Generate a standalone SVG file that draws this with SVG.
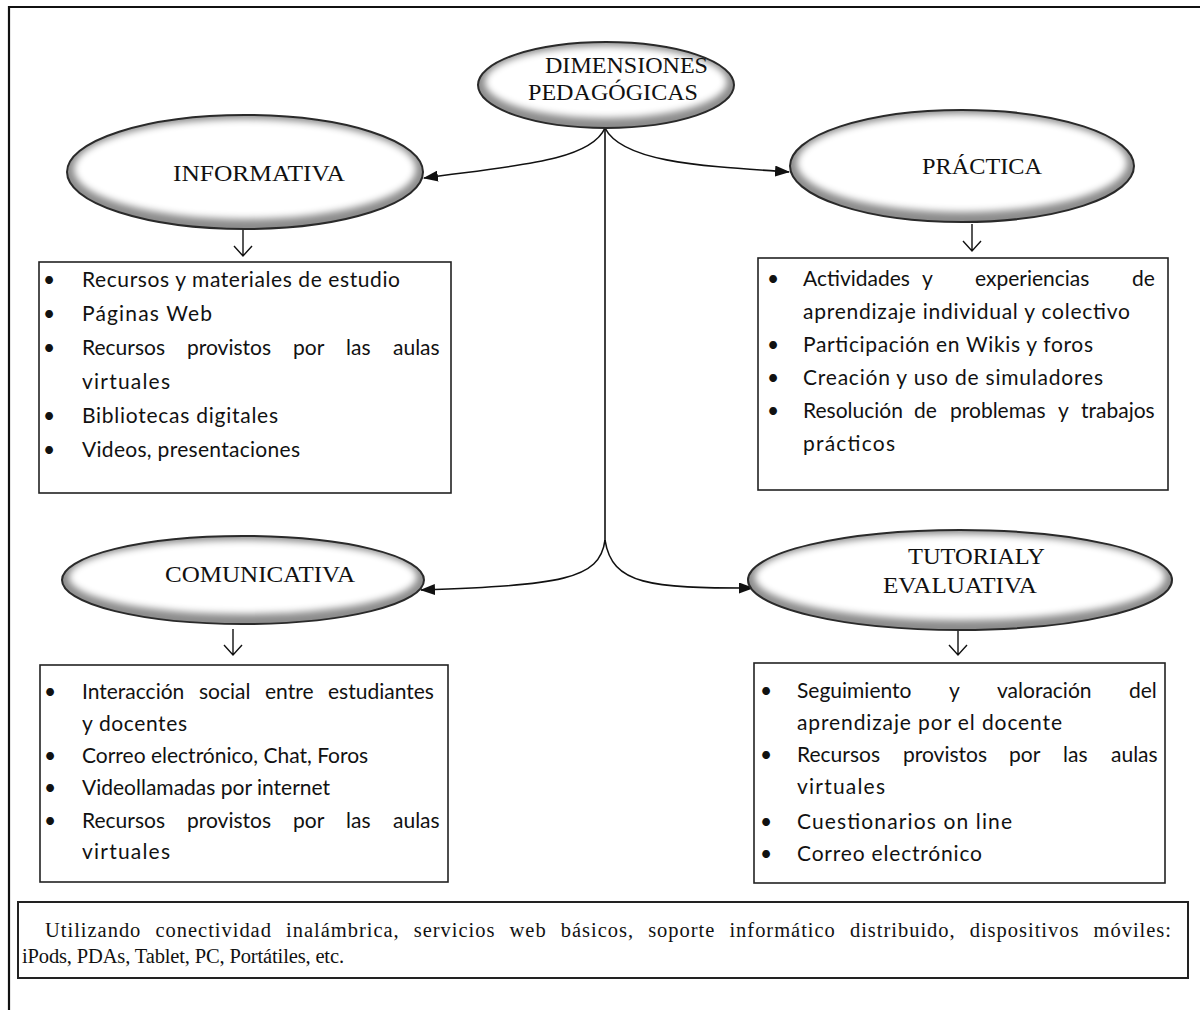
<svg xmlns="http://www.w3.org/2000/svg" width="1200" height="1010" viewBox="0 0 1200 1010">
  <defs>
    <style>
      .lbl { font-family: "Liberation Serif", "Times New Roman", serif; font-size: 23px; fill: #111; }
      .item { font-family: Lato, "Open Sans", sans-serif; font-size: 21px; fill: #111; }
      .foot { font-family: "Liberation Serif", "Times New Roman", serif; font-size: 20.5px; fill: #111; }
      .box { fill: #fff; stroke: #222; stroke-width: 1.6; }
      .rim { fill: #8c8c8c; }
      .face { fill: #fff; filter: url(#soft); }
      .edge { fill: none; stroke: #2a2a2a; stroke-width: 2; }
      .conn { fill: none; stroke: #111; stroke-width: 1.6; }
      .down { fill: none; stroke: #111; stroke-width: 1.4; }
    </style>
    <!-- softens the white face so the grey rim fades inward -->
    <filter id="soft" x="-10%" y="-20%" width="120%" height="140%">
      <feGaussianBlur stdDeviation="3.5"/>
    </filter>
    <marker id="tipBig" viewBox="0 0 15 11" refX="14" refY="5.5" markerWidth="15" markerHeight="11" markerUnits="userSpaceOnUse" orient="auto">
      <path d="M0,0 L15,5.5 L0,11 z" fill="#111"/>
    </marker>
  </defs>

  <rect width="1200" height="1010" fill="#fff"/>

  <!-- outer frame, open to the right and bottom -->
  <path d="M1200,7 H9 V1010" fill="none" stroke="#111" stroke-width="2.2"/>

  <!-- connectors -->
  <g id="connectors">
    <path class="conn" d="M605,128 V542"/>
    <path class="conn" d="M605,128 C590,162 510,166 424,178" marker-end="url(#tipBig)"/>
    <path class="conn" d="M605,128 C622,162 700,166 789,172" marker-end="url(#tipBig)"/>
    <path class="conn" d="M605,540 C600,580 560,585 421,590" marker-end="url(#tipBig)"/>
    <path class="conn" d="M605,540 C612,585 650,588 753,588" marker-end="url(#tipBig)"/>
    <!-- short down arrows from each dimension to its list -->
    <path class="down" d="M243,230 V256 M234,246 L243,256 L252,246"/>
    <path class="down" d="M972,224 V251 M963,241 L972,251 L981,241"/>
    <path class="down" d="M233,629 V655 M224,645 L233,655 L242,645"/>
    <path class="down" d="M958,631 V655 M949,645 L958,655 L967,645"/>
  </g>

  <!-- root node -->
  <g id="node-dimensiones">
    <ellipse class="rim" cx="606" cy="85" rx="128" ry="43"/>
    <ellipse class="face" cx="606" cy="82" rx="121" ry="36"/>
    <ellipse class="edge" cx="606" cy="85" rx="128" ry="43"/>
    <text class="lbl" x="545" y="73" textLength="163" lengthAdjust="spacingAndGlyphs">DIMENSIONES</text>
    <text class="lbl" x="528" y="100" textLength="170" lengthAdjust="spacingAndGlyphs">PEDAGÓGICAS</text>
  </g>

  <g id="node-informativa">
    <ellipse class="rim" cx="245" cy="172" rx="178" ry="57"/>
    <ellipse class="face" cx="245" cy="169" rx="171" ry="50"/>
    <ellipse class="edge" cx="245" cy="172" rx="178" ry="57"/>
    <text class="lbl" x="173" y="181" textLength="172" lengthAdjust="spacingAndGlyphs">INFORMATIVA</text>
  </g>

  <g id="node-practica">
    <ellipse class="rim" cx="962" cy="166" rx="172" ry="56"/>
    <ellipse class="face" cx="962" cy="163" rx="165" ry="49"/>
    <ellipse class="edge" cx="962" cy="166" rx="172" ry="56"/>
    <text class="lbl" x="922" y="174" textLength="120" lengthAdjust="spacingAndGlyphs">PRÁCTICA</text>
  </g>

  <g id="node-comunicativa">
    <ellipse class="rim" cx="243" cy="580" rx="181" ry="44"/>
    <ellipse class="face" cx="243" cy="577" rx="174" ry="37"/>
    <ellipse class="edge" cx="243" cy="580" rx="181" ry="44"/>
    <text class="lbl" x="165" y="582" textLength="190" lengthAdjust="spacingAndGlyphs">COMUNICATIVA</text>
  </g>

  <g id="node-tutorial">
    <ellipse class="rim" cx="960" cy="580" rx="212" ry="50"/>
    <ellipse class="face" cx="960" cy="577" rx="205" ry="43"/>
    <ellipse class="edge" cx="960" cy="580" rx="212" ry="50"/>
    <text class="lbl" x="908" y="564" textLength="137" lengthAdjust="spacingAndGlyphs">TUTORIALY</text>
    <text class="lbl" x="883" y="593" textLength="154" lengthAdjust="spacingAndGlyphs">EVALUATIVA</text>
  </g>

  <!-- lists -->
  <g id="list-informativa">
    <rect class="box" x="39" y="262" width="412" height="231"/>
    <g class="item">
      <text x="43" y="287">•</text>
      <text x="82" y="287" textLength="318" lengthAdjust="spacing">Recursos y materiales de estudio</text>
      <text x="43" y="321">•</text>
      <text x="82" y="321" textLength="130" lengthAdjust="spacing">Páginas Web</text>
      <text x="43" y="355">•</text>
      <text x="82" y="355">Recursos</text>
      <text x="187" y="355">provistos</text>
      <text x="293" y="355">por</text>
      <text x="346" y="355">las</text>
      <text x="393" y="355">aulas</text>
      <text x="82" y="389" textLength="88" lengthAdjust="spacing">virtuales</text>
      <text x="43" y="423">•</text>
      <text x="82" y="423" textLength="196" lengthAdjust="spacing">Bibliotecas digitales</text>
      <text x="43" y="457">•</text>
      <text x="82" y="457" textLength="218" lengthAdjust="spacing">Videos, presentaciones</text>
    </g>
  </g>

  <g id="list-practica">
    <rect class="box" x="758" y="258" width="410" height="232"/>
    <g class="item">
      <text x="767" y="286">•</text>
      <text x="803" y="286">Actividades</text>
      <text x="922" y="286">y</text>
      <text x="975" y="286">experiencias</text>
      <text x="1132" y="286">de</text>
      <text x="803" y="319" textLength="327" lengthAdjust="spacing">aprendizaje individual y colectivo</text>
      <text x="767" y="352">•</text>
      <text x="803" y="352" textLength="290" lengthAdjust="spacing">Participación en Wikis y foros</text>
      <text x="767" y="385">•</text>
      <text x="803" y="385" textLength="300" lengthAdjust="spacing">Creación y uso de simuladores</text>
      <text x="767" y="418">•</text>
      <text x="803" y="418">Resolución</text>
      <text x="914" y="418">de</text>
      <text x="950" y="418">problemas</text>
      <text x="1058" y="418">y</text>
      <text x="1081" y="418">trabajos</text>
      <text x="803" y="451" textLength="92" lengthAdjust="spacing">prácticos</text>
    </g>
  </g>

  <g id="list-comunicativa">
    <rect class="box" x="40" y="665" width="408" height="217"/>
    <g class="item">
      <text x="44" y="699">•</text>
      <text x="82" y="699">Interacción</text>
      <text x="199" y="699">social</text>
      <text x="265" y="699">entre</text>
      <text x="328" y="699">estudiantes</text>
      <text x="82" y="731" textLength="105" lengthAdjust="spacing">y docentes</text>
      <text x="44" y="763">•</text>
      <text x="82" y="763">Correo electrónico, Chat, Foros</text>
      <text x="44" y="795">•</text>
      <text x="82" y="795">Videollamadas por internet</text>
      <text x="44" y="828">•</text>
      <text x="82" y="828">Recursos</text>
      <text x="187" y="828">provistos</text>
      <text x="293" y="828">por</text>
      <text x="346" y="828">las</text>
      <text x="393" y="828">aulas</text>
      <text x="82" y="859" textLength="88" lengthAdjust="spacing">virtuales</text>
    </g>
  </g>

  <g id="list-tutorial">
    <rect class="box" x="754" y="663" width="411" height="220"/>
    <g class="item">
      <text x="760" y="698">•</text>
      <text x="797" y="698">Seguimiento</text>
      <text x="949" y="698">y</text>
      <text x="997" y="698">valoración</text>
      <text x="1129" y="698">del</text>
      <text x="797" y="730" textLength="265" lengthAdjust="spacing">aprendizaje por el docente</text>
      <text x="760" y="762">•</text>
      <text x="797" y="762">Recursos</text>
      <text x="903" y="762">provistos</text>
      <text x="1009" y="762">por</text>
      <text x="1063" y="762">las</text>
      <text x="1111" y="762">aulas</text>
      <text x="797" y="794" textLength="88" lengthAdjust="spacing">virtuales</text>
      <text x="760" y="829">•</text>
      <text x="797" y="829" textLength="215" lengthAdjust="spacing">Cuestionarios on line</text>
      <text x="760" y="861">•</text>
      <text x="797" y="861" textLength="185" lengthAdjust="spacing">Correo electrónico</text>
    </g>
  </g>

  <!-- footnote box -->
  <g id="note-tecnologia">
    <rect x="18" y="902" width="1170" height="76" fill="#fff" stroke="#222" stroke-width="2"/>
    <text class="foot" x="45" y="937" word-spacing="8" textLength="1126" lengthAdjust="spacing">Utilizando conectividad inalámbrica, servicios web básicos, soporte informático distribuido, dispositivos móviles:</text>
    <text class="foot" x="22" y="963" textLength="322" lengthAdjust="spacing">iPods, PDAs, Tablet, PC, Portátiles, etc.</text>
  </g>
</svg>
